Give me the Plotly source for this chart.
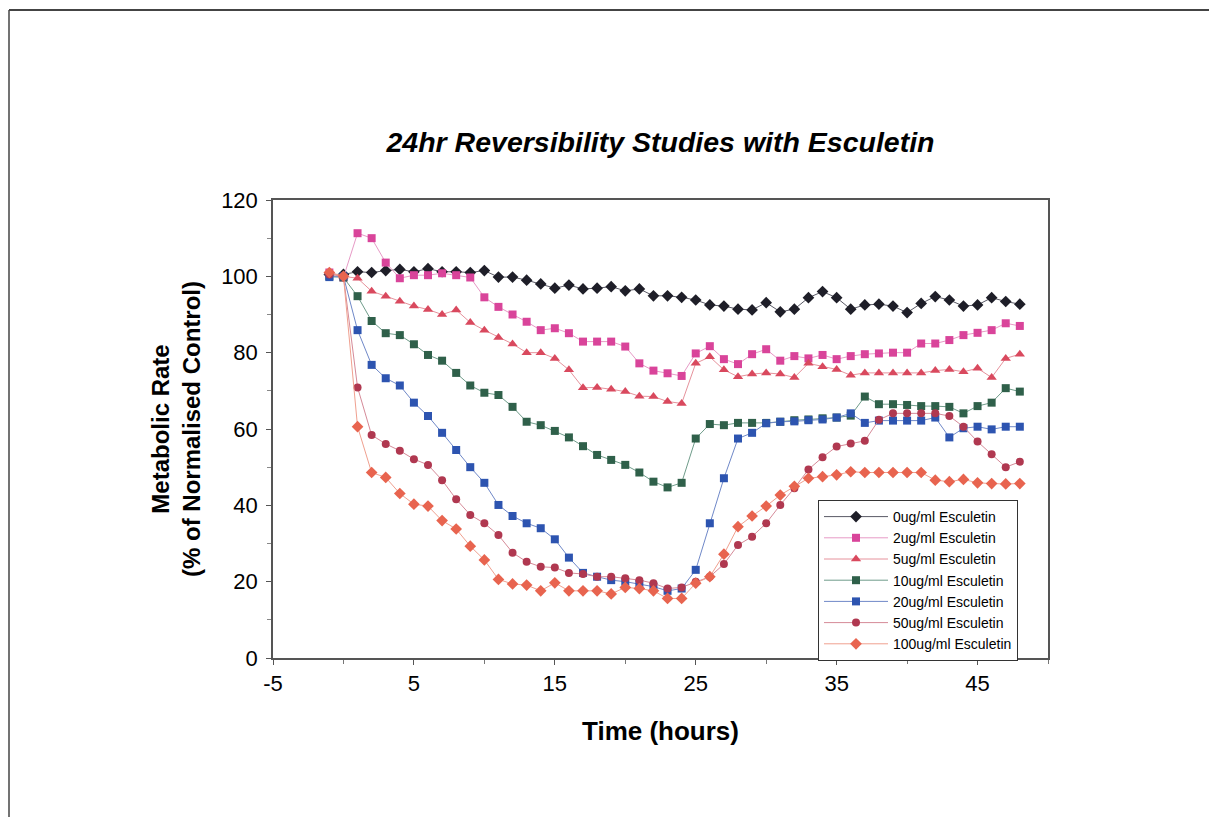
import plotly.graph_objects as go

hours = list(range(-1, 49))

series_names = ["0ug/ml Esculetin", "2ug/ml Esculetin", "5ug/ml Esculetin",
                "10ug/ml Esculetin", "20ug/ml Esculetin", "50ug/ml Esculetin",
                "100ug/ml Esculetin"]

esc_0 = [100.5, 100.5, 101.2, 101.0, 101.5, 101.8, 101.2, 102.0, 101.2, 101.2,
         101.0, 101.5, 99.8, 99.8, 99.0, 98.0, 96.9, 97.7, 96.7, 96.9,
         97.3, 96.2, 96.7, 94.9, 94.9, 94.5, 93.8, 92.5, 92.2, 91.4,
         91.2, 93.1, 90.7, 91.4, 94.4, 96.0, 94.4, 91.4, 92.5, 92.7,
         92.2, 90.5, 92.9, 94.7, 93.8, 92.2, 92.5, 94.4, 93.4, 92.7]
esc_2 = [101.0, 99.7, 111.3, 110.0, 103.6, 99.5, 100.3, 100.3, 100.8, 100.3,
         99.7, 94.5, 92.0, 90.0, 88.1, 85.9, 86.4, 85.1, 82.9, 82.9,
         82.9, 81.6, 77.2, 75.3, 74.6, 73.9, 79.8, 81.7, 78.3, 77.0,
         79.6, 80.9, 77.9, 79.1, 78.5, 79.4, 78.3, 79.1, 79.6, 79.8,
         80.0, 80.0, 82.4, 82.4, 83.3, 84.6, 85.2, 85.9, 87.7, 87.0]
esc_5 = [101.0, 100.0, 99.5, 96.1, 94.8, 93.5, 92.2, 91.3, 90.0, 91.2,
         87.9, 85.9, 84.0, 82.3, 80.0, 80.0, 78.5, 75.5, 70.8, 70.9,
         70.4, 69.8, 68.6, 68.5, 67.2, 66.7, 77.2, 78.9, 75.5, 73.7,
         74.4, 74.7, 74.4, 73.5, 77.2, 76.3, 75.6, 74.1, 74.7, 74.7,
         74.7, 74.7, 74.7, 75.3, 75.6, 75.0, 75.9, 73.5, 78.5, 79.6]
esc_10 = [100.0, 99.7, 94.8, 88.3, 85.1, 84.6, 82.2, 79.4, 77.9, 74.7,
          71.4, 69.5, 68.9, 65.8, 61.9, 61.0, 59.5, 57.8, 55.5, 53.2,
          51.9, 50.6, 48.6, 46.2, 44.7, 45.9, 57.5, 61.3, 61.0, 61.6,
          61.6, 61.6, 61.9, 62.3, 62.5, 62.8, 63.0, 63.5, 68.5, 66.5,
          66.5, 66.3, 66.0, 66.0, 65.8, 64.1, 66.0, 66.9, 70.7, 69.8]
esc_20 = [99.8, 100.0, 85.9, 76.8, 73.3, 71.4, 66.9, 63.4, 59.0, 54.5,
          50.0, 45.9, 40.1, 37.2, 35.3, 34.0, 31.1, 26.3, 22.3, 21.3,
          20.4, 20.0, 19.4, 18.7, 17.6, 18.2, 23.1, 35.3, 47.1, 57.5,
          59.0, 61.5, 61.9, 62.0, 62.3, 62.5, 63.0, 64.1, 61.6, 62.2,
          62.2, 62.2, 62.2, 63.0, 57.8, 60.2, 60.6, 59.9, 60.6, 60.6]
esc_50 = [100.5, 100.0, 70.9, 58.4, 56.1, 54.3, 52.1, 50.6, 46.6, 41.6,
          37.5, 35.3, 32.2, 27.6, 25.2, 23.9, 23.7, 22.3, 22.0, 21.3,
          21.3, 20.9, 20.4, 19.6, 18.2, 18.5, 20.0, 21.3, 24.6, 29.6,
          31.8, 35.3, 40.1, 44.5, 49.4, 52.6, 55.4, 56.2, 56.9, 62.4,
          64.1, 64.1, 64.1, 64.1, 63.4, 60.6, 56.7, 53.4, 50.0, 51.4]
esc_100 = [101.0, 100.0, 60.6, 48.6, 47.3, 43.1, 40.3, 39.8, 36.0, 33.8,
           29.3, 25.7, 20.6, 19.4, 19.1, 17.6, 19.7, 17.6, 17.6, 17.6,
           16.8, 18.5, 18.2, 17.6, 15.6, 15.6, 19.6, 21.3, 27.2, 34.4,
           37.2, 39.8, 42.7, 45.0, 47.1, 47.5, 48.0, 48.8, 48.6, 48.6,
           48.6, 48.6, 48.6, 46.6, 46.2, 46.8, 45.9, 45.7, 45.6, 45.7]

all_series = [esc_0, esc_2, esc_5, esc_10, esc_20, esc_50, esc_100]
for s in all_series:
    assert len(s) == len(hours)

x_tick_vals = [-5, 5, 15, 25, 35, 45]
x_tick_text = ["-5", "5", "15", "25", "35", "45"]
y_tick_vals = [0, 20, 40, 60, 80, 100, 120]

marker_colors = ["#1e1e28", "#d9449a", "#d9495e", "#2f604a", "#2d54b0", "#b03850", "#e8644f"]
line_colors = ["#5a5a66", "#e79ac6", "#e6929c", "#6f9c8a", "#6f88c8", "#d58a98", "#f0a08f"]
symbols = ["diamond", "square", "triangle-up", "square", "square", "circle", "diamond"]
sizes = [9, 8, 9, 8, 8, 8, 9]

FONT = "Liberation Sans, Arial, sans-serif"

fig = go.Figure()
for name, vals, mc, lc, sym, sz in zip(series_names, all_series, marker_colors,
                                       line_colors, symbols, sizes):
    fig.add_trace(go.Scatter(
        x=hours, y=vals, name=name, mode="lines+markers",
        line=dict(color=lc, width=1),
        marker=dict(color=mc, symbol=sym, size=sz, line=dict(width=0)),
    ))

# page has an 8px body margin; plot area spans page x 273..1048, y 200..658
W, H = 775, 458
def px(xp):
    return (xp - 273) / W
def py(yp):
    return (658 - yp) / H

# outer chart frame (top and left edges visible in the reference)
fig.add_shape(type="line", xref="paper", yref="paper",
              x0=px(9), x1=px(1209), y0=py(10), y1=py(10),
              line=dict(color="#444", width=2))
fig.add_shape(type="line", xref="paper", yref="paper",
              x0=px(9), x1=px(9), y0=py(10), y1=py(817),
              line=dict(color="#444", width=1.5))

fig.update_layout(
    width=1201, height=809,
    margin=dict(l=265, r=161, t=192, b=159),
    paper_bgcolor="white", plot_bgcolor="white",
    font=dict(family=FONT, color="black"),
    title=dict(text="<b><i>24hr Reversibility Studies with Esculetin</i></b>",
               x=0.5, xref="paper", y=1 - 134 / 809, yref="container",
               xanchor="center", yanchor="middle",
               font=dict(size=28.5, family=FONT, color="black")),
    showlegend=True,
    legend=dict(x=px(818), y=py(500), xanchor="left", yanchor="top",
                bordercolor="#333", borderwidth=1, bgcolor="white",
                font=dict(size=14, family=FONT, color="black"),
                tracegroupgap=0, itemwidth=64),
)

fig.update_xaxes(
    range=[-5, 50], tickmode="array", tickvals=x_tick_vals, ticktext=x_tick_text,
    ticks="outside", ticklen=5, tickcolor="#555",
    minor=dict(dtick=5, tick0=0, ticks="outside", ticklen=4, tickcolor="#777"),
    showline=True, linecolor="#555", linewidth=1.5, mirror=True,
    showgrid=False, zeroline=False,
    tickfont=dict(size=22, family=FONT, color="black"),
    title=dict(text="<b>Time (hours)</b>", standoff=27,
               font=dict(size=26, family=FONT, color="black")),
)
fig.update_yaxes(
    range=[0, 120], tickmode="array", tickvals=y_tick_vals,
    ticks="outside", ticklen=5, tickcolor="#555", ticklabelstandoff=4,
    minor=dict(dtick=10, tick0=0, ticks="outside", ticklen=4, tickcolor="#888"),
    showline=True, linecolor="#555", linewidth=1.5, mirror=True,
    showgrid=False, zeroline=False,
    tickfont=dict(size=22, family=FONT, color="black"),
    title=dict(text="<b>Metabolic Rate<br>(% of Normalised Control)</b>", standoff=14,
               font=dict(size=24, family=FONT, color="black")),
)

fig.write_html("out.html")
